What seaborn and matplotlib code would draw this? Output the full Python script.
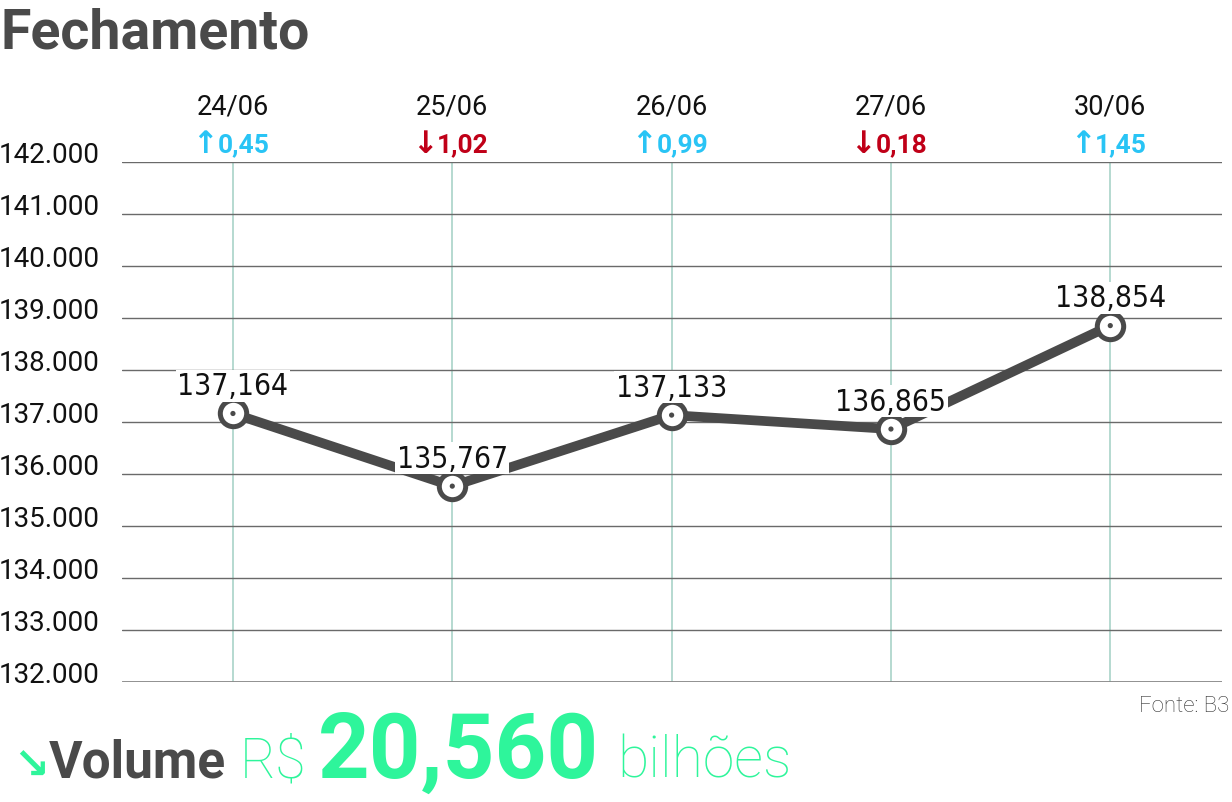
import pandas as pd
import matplotlib.pyplot as plt
import seaborn as sns
from matplotlib.ticker import FuncFormatter
import matplotlib.transforms as mtransforms

# Data
dates = ['24/06', '25/06', '26/06', '27/06', '30/06']
closes = [137164, 135767, 137133, 136865, 138854]
changes = ['0,45', '1,02', '0,99', '0,18', '1,45']
directions = ['up', 'down', 'up', 'down', 'up']
point_labels = ['137,164', '135,767', '137,133', '136,865', '138,854']
y_ticks = [132000, 133000, 134000, 135000, 136000, 137000, 138000, 139000, 140000, 141000, 142000]

df = pd.DataFrame({'pos': range(len(dates)), 'close': closes})

sns.set_style('white')
plt.rcParams['font.family'] = ['Roboto', 'DejaVu Sans']

DARK = '#4a4a4a'
CYAN = '#29c4f5'
RED = '#c00018'
GREEN = '#2ef59b'

fig = plt.figure(figsize=(12.32, 8.03), dpi=100)
ax = fig.add_axes([0.099, 0.1494, 0.893, 0.6476])

# vertical guide lines at each day
for x in df['pos']:
    ax.axvline(x, color='#a9d3c8', linewidth=1.2, zorder=1)

# horizontal grid
for y in y_ticks:
    ax.axhline(y, color='#6a6a6a', linewidth=1.0, zorder=1)
ax.axhline(y_ticks[0], color='#8a8a8a', linewidth=2.0, zorder=1)

sns.lineplot(data=df, x='pos', y='close', ax=ax, color=DARK, linewidth=7,
             marker='o', markersize=19, markerfacecolor='white',
             markeredgecolor=DARK, markeredgewidth=3.6, zorder=3)
sns.scatterplot(data=df, x='pos', y='close', ax=ax, color=DARK, s=14,
                edgecolor='none', zorder=5)

for x, y, lab in zip(df['pos'], df['close'], point_labels):
    ax.annotate(lab, xy=(x, y), xytext=(0, 14), textcoords='offset points',
                ha='center', va='baseline', fontsize=21.5, fontstretch='condensed',
                family=['DejaVu Sans'], color='#111111',
                bbox=dict(boxstyle='square,pad=0.05', fc='white', ec='none'),
                zorder=4)

ax.set_xlim(-0.506, 4.51)
ax.set_ylim(132000, 142000)
ax.set_yticks(y_ticks)
ax.yaxis.set_major_formatter(FuncFormatter(lambda v, p: f'{int(v):,}'.replace(',', '.')))
ax.tick_params(axis='y', length=0, pad=16, labelsize=20, labelcolor='#111111')
for t in ax.get_yticklabels():
    t.set_va('baseline')
ax.set_xticks([])
ax.set_xlabel('')
ax.set_ylabel('')
sns.despine(ax=ax, left=True, bottom=True)

# dates and daily change above the chart
trans = mtransforms.blended_transform_factory(ax.transData, ax.transAxes)
arrow_tr = mtransforms.offset_copy(trans, fig=fig, x=-15, units='dots')
for x, d, c, dr in zip(df['pos'], dates, changes, directions):
    ax.text(x, 1.108, d, transform=trans, ha='center', va='center',
            fontsize=19.5, color='#111111')
    col = CYAN if dr == 'up' else RED
    arrow = '\u2191' if dr == 'up' else '\u2193'
    ax.text(x, 1.035, arrow, transform=arrow_tr, ha='right', va='center',
            fontsize=22, fontweight='bold', color=col, family=['DejaVu Sans'])
    ax.text(x, 1.035, c, transform=arrow_tr, ha='left', va='center',
            fontsize=19, fontweight='bold', color=col)

# title
fig.text(0.0, 0.940, 'Fechamento', fontsize=40, fontweight='bold', color=DARK,
         ha='left', va='baseline')

# source
fig.text(0.998, 0.113, 'Fonte: B3', fontsize=16, fontweight='light', color='#333333',
         ha='right', va='baseline')

# volume line at the bottom
fig.text(0.011, 0.030, '\u2198', fontsize=31, fontweight='bold', color=GREEN,
         ha='left', va='baseline', family=['DejaVu Sans'])
fig.text(0.040, 0.032, 'Volume', fontsize=37, fontweight='bold', color=DARK,
         ha='left', va='baseline')
fig.text(0.195, 0.032, 'R$', fontsize=40, fontweight='light', color=GREEN,
         ha='left', va='baseline')
fig.text(0.258, 0.032, '20,560', fontsize=65, fontweight='bold', color=GREEN,
         ha='left', va='baseline')
fig.text(0.501, 0.032, 'bilhões', fontsize=41, fontweight='light', color=GREEN,
         ha='left', va='baseline')

fig.savefig('out.png', dpi=100, facecolor='white')
